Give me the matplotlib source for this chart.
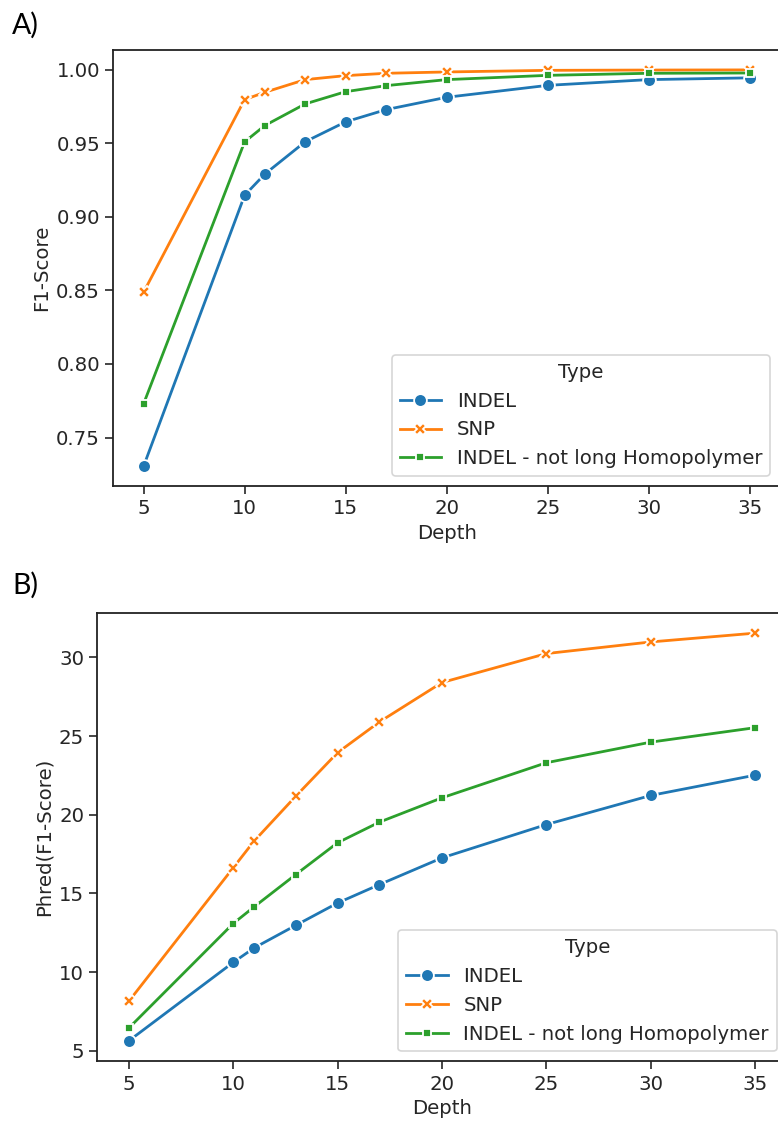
#!/usr/bin/env python3
import matplotlib
matplotlib.use("Agg")
import matplotlib.pyplot as plt

depth = [5, 10, 11, 13, 15, 17, 20, 25, 30, 35]
types = ["INDEL", "SNP", "INDEL - not long Homopolymer"]

# panel A: F1-Score
f1_indel = [0.7305, 0.9146, 0.929, 0.951, 0.9645, 0.9728, 0.9812, 0.9893, 0.9932, 0.9944]
f1_snp = [0.8487, 0.9796, 0.9846, 0.9932, 0.9959, 0.9975, 0.9984, 0.9995, 0.9997, 0.9998]
f1_indel_nlh = [0.7729, 0.9509, 0.962, 0.9767, 0.985, 0.9891, 0.9932, 0.9961, 0.9975, 0.9977]

# panel B: Phred(F1-Score)
ph_indel = [5.62, 10.61, 11.53, 12.97, 14.39, 15.56, 17.26, 19.38, 21.23, 22.52]
ph_snp = [8.13, 16.62, 18.32, 21.18, 23.95, 25.9, 28.41, 30.25, 30.99, 31.55]
ph_indel_nlh = [6.43, 13.08, 14.14, 16.2, 18.22, 19.53, 21.08, 23.31, 24.62, 25.54]

colors = ["#1f77b4", "#ff7f0e", "#2ca02c"]
markers = ["o", "X", (4, 0, 45)]
msizes = [9.2, 8.8, 8.8]

FS = 14.2
TXT = "#262626"
plt.rcParams["font.family"] = ["DejaVu Sans"]
plt.rcParams["font.size"] = FS
plt.rcParams["text.color"] = TXT
plt.rcParams["axes.labelcolor"] = TXT
plt.rcParams["xtick.color"] = TXT
plt.rcParams["ytick.color"] = TXT
plt.rcParams["axes.edgecolor"] = "#222222"

fig = plt.figure(figsize=(7.78, 11.28), dpi=100)
ax_a = fig.add_axes([0.1456, 0.5691, 0.857, 0.3865])
ax_b = fig.add_axes([0.1251, 0.0591, 0.886, 0.3977])


def draw(ax, series, ylabel):
    for vals, name, c, m, ms in zip(series, types, colors, markers, msizes):
        ax.plot(depth, vals, color=c, marker=m, markersize=ms, lw=2.0,
                mec="white", mew=1.3, label=name)
    ax.set_xlabel("Depth", fontsize=FS)
    ax.set_ylabel(ylabel, fontsize=FS)
    ax.set_xticks([5, 10, 15, 20, 25, 30, 35])
    ax.tick_params(labelsize=FS, length=6, width=1.2)
    for s in ax.spines.values():
        s.set_linewidth(1.3)
    leg = ax.legend(title="Type", loc="lower right", fontsize=FS,
                    title_fontsize=FS, markerscale=1.0, handlelength=2.1)
    leg.get_frame().set_linewidth(1.2)


draw(ax_a, [f1_indel, f1_snp, f1_indel_nlh], "F1-Score")
ax_a.set_yticks([0.75, 0.80, 0.85, 0.90, 0.95, 1.00])
ax_a.set_yticklabels(["0.75", "0.80", "0.85", "0.90", "0.95", "1.00"])

draw(ax_b, [ph_indel, ph_snp, ph_indel_nlh], "Phred(F1-Score)")
ax_b.set_yticks([5, 10, 15, 20, 25, 30])

fig.text(12 / 778, 1 - 34 / 1128, "A)", fontsize=20.5, family="Lato", color="black")
fig.text(12 / 778, 1 - 594 / 1128, "B)", fontsize=20.5, family="Lato", color="black")

fig.savefig("out.png", dpi=100)
